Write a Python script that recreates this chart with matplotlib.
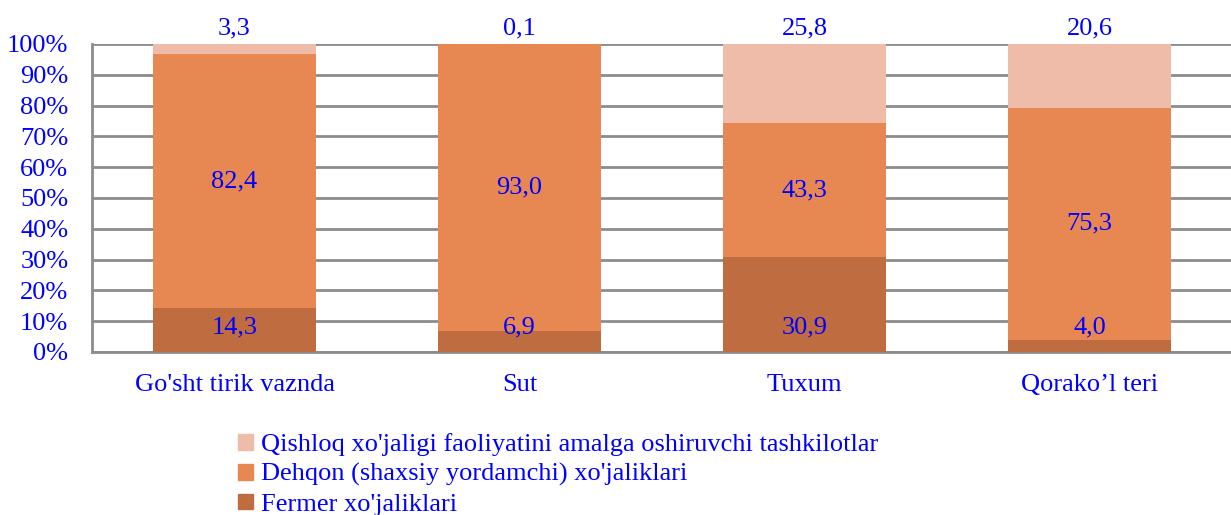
import matplotlib
matplotlib.use("Agg")
import matplotlib.pyplot as plt
from matplotlib.patches import Patch

# data (percent shares)
categories = ["Go'sht tirik vaznda", "Sut", "Tuxum", "Qorako\u2019l teri"]
fermer = [14.3, 6.9, 30.9, 4.0]
dehqon = [82.4, 93.0, 43.3, 75.3]
qishloq = [3.3, 0.1, 25.8, 20.6]
series_names = ["Qishloq xo'jaligi faoliyatini amalga oshiruvchi tashkilotlar",
                "Dehqon (shaxsiy yordamchi) xo'jaliklari",
                "Fermer xo'jaliklari"]

C_LIGHT = "#EEBCA8"
C_MID = "#E78852"
C_DARK = "#BF6D40"
BLUE = "#0000FF"
GRID = "#8C8C8C"

plt.rcParams["font.family"] = ["Liberation Serif", "DejaVu Serif"]
FS = 19

fig = plt.figure(figsize=(12.31, 5.15), dpi=100)
ax = fig.add_axes([92 / 1231, 163 / 515, 1140 / 1231, 308 / 515])

x = list(range(len(categories)))
w = 0.57
bottom2 = [a + b for a, b in zip(fermer, dehqon)]
ax.bar(x, fermer, w, color=C_DARK, zorder=3)
ax.bar(x, dehqon, w, bottom=fermer, color=C_MID, zorder=3)
ax.bar(x, qishloq, w, bottom=bottom2, color=C_LIGHT, zorder=3)

for i in x:
    ax.text(i, 8.0, f"{fermer[i]:.1f}".replace(".", ","), ha="center", va="center",
            color=BLUE, fontsize=FS, zorder=4)
    ax.text(i, fermer[i] + dehqon[i] / 2, f"{dehqon[i]:.1f}".replace(".", ","),
            ha="center", va="center", color=BLUE, fontsize=FS, zorder=4)
    ax.text(i, 105.2, f"{qishloq[i]:.1f}".replace(".", ","), ha="center", va="center",
            color=BLUE, fontsize=FS, zorder=4, clip_on=False)

ax.set_xlim(-0.5, 3.5)
ax.set_ylim(0, 100)
ax.set_yticks(range(0, 101, 10))
ax.set_yticklabels([f"{v}%" for v in range(0, 101, 10)])
ax.set_xticks(x)
ax.set_xticklabels(categories)
ax.tick_params(axis="both", length=0, labelsize=FS, labelcolor=BLUE)
ax.tick_params(axis="y", pad=17)
ax.tick_params(axis="x", pad=16)
ax.yaxis.grid(True, color=GRID, lw=2, zorder=0)
for s in ["top", "right"]:
    ax.spines[s].set_visible(False)
for s in ["left", "bottom"]:
    ax.spines[s].set_color(GRID)
    ax.spines[s].set_linewidth(2)

handles = [Patch(color=C_LIGHT), Patch(color=C_MID), Patch(color=C_DARK)]
fig.legend(handles, series_names, loc="upper left", bbox_to_anchor=(225 / 1231, 1 - 420 / 515),
           frameon=False, fontsize=FS, labelcolor=BLUE, handlelength=0.55, handleheight=0.55,
           handletextpad=0.3, labelspacing=0.27, borderpad=0)

fig.savefig("out.png", dpi=100)
